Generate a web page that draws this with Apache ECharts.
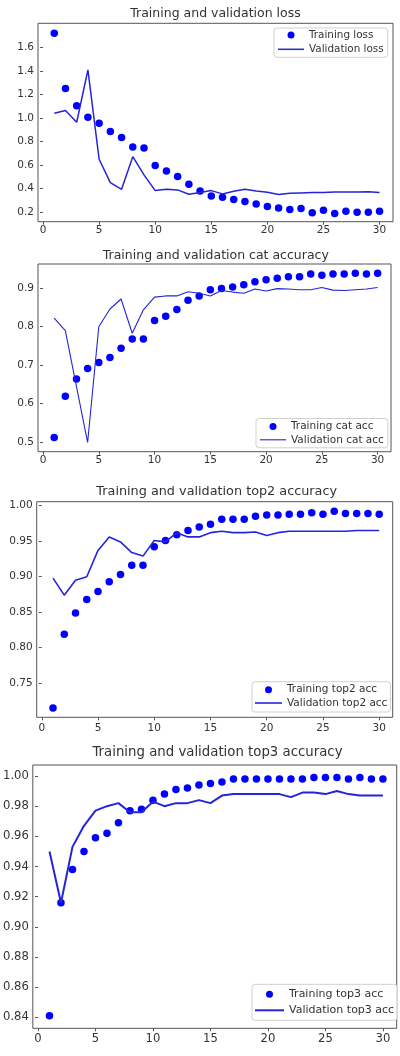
<!DOCTYPE html>
<html>
<head>
<meta charset="utf-8">
<script src="https://cdn.jsdelivr.net/npm/echarts@6/dist/echarts.min.js"></script>
<style>html,body{margin:0;padding:0;background:#fff;}#c{width:400px;height:1056px;}</style>
</head>
<body>
<div id="c"></div>
<script>
// ---- data ----
const epochs = [1,2,3,4,5,6,7,8,9,10,11,12,13,14,15,16,17,18,19,20,21,22,23,24,25,26,27,28,29,30];

const trainLoss = [1.72,1.25,1.105,1.006,0.955,0.885,0.834,0.754,0.746,0.596,0.551,0.503,0.438,0.381,0.339,0.327,0.308,0.291,0.271,0.248,0.237,0.223,0.231,0.197,0.217,0.189,0.209,0.200,0.200,0.209];
const valLoss   = [1.04,1.063,0.964,1.408,0.65,0.452,0.395,0.672,0.517,0.384,0.395,0.39,0.353,0.367,0.384,0.356,0.378,0.395,0.381,0.37,0.35,0.361,0.364,0.367,0.367,0.373,0.373,0.373,0.375,0.367];

const trainCat = [0.512,0.619,0.664,0.691,0.707,0.72,0.744,0.768,0.768,0.816,0.827,0.845,0.869,0.88,0.896,0.899,0.903,0.909,0.917,0.922,0.926,0.93,0.93,0.937,0.934,0.937,0.937,0.939,0.937,0.939];
const valCat   = [0.822,0.79,0.644,0.499,0.8,0.846,0.872,0.783,0.844,0.877,0.88,0.88,0.891,0.887,0.88,0.894,0.89,0.887,0.898,0.893,0.899,0.898,0.896,0.896,0.902,0.895,0.894,0.896,0.898,0.902];

const trainTop2 = [0.715,0.819,0.849,0.868,0.879,0.893,0.903,0.916,0.916,0.942,0.951,0.959,0.965,0.970,0.974,0.981,0.981,0.981,0.985,0.987,0.987,0.988,0.988,0.990,0.988,0.992,0.989,0.989,0.989,0.988];
const valTop2   = [0.898,0.874,0.895,0.900,0.937,0.956,0.949,0.934,0.929,0.951,0.949,0.962,0.956,0.956,0.962,0.964,0.962,0.962,0.963,0.958,0.962,0.964,0.964,0.964,0.964,0.964,0.964,0.965,0.965,0.965];

const trainTop3 = [0.841,0.916,0.938,0.950,0.959,0.962,0.969,0.977,0.978,0.984,0.988,0.991,0.992,0.994,0.995,0.996,0.998,0.998,0.998,0.998,0.998,0.998,0.998,0.999,0.999,0.999,0.998,0.999,0.998,0.998];
const valTop3   = [0.950,0.916,0.953,0.967,0.977,0.980,0.982,0.976,0.976,0.983,0.980,0.982,0.982,0.984,0.982,0.987,0.988,0.988,0.988,0.988,0.988,0.986,0.989,0.989,0.988,0.990,0.988,0.987,0.987,0.987];

const titles = ['Training and validation loss','Training and validation cat accuracy','Training and validation top2 accuracy','Training and validation top3 accuracy'];
const trainNames = ['Training loss','Training cat acc','Training top2 acc','Training top3 acc'];
const valNames = ['Validation loss','Validation cat acc','Validation top2 acc','Validation top3 acc'];

const xTicks = [0,5,10,15,20,25,30];
const yTicks1 = [0.2,0.4,0.6,0.8,1.0,1.2,1.4,1.6];
const yTicks2 = [0.5,0.6,0.7,0.8,0.9];
const yTicks3 = [0.75,0.80,0.85,0.90,0.95,1.00];
const yTicks4 = [0.84,0.86,0.88,0.90,0.92,0.94,0.96,0.98,1.00];

// ---- layout ----
const panels = [
  {grid:{left:38,top:23.3,width:355,height:198.4}, y:[0.12,1.804], yt:yTicks1, dec:1, fs:10.5, tfs:12.5, tc:[215.5,7.5], xm:3,
   lg:{left:274,top:28,padding:[1,4,2,4],itemWidth:26,lh:12,gap:2.3,fs:10.4}, lw:1.5, train:trainLoss, val:valLoss},
  {grid:{left:38,top:264,width:353,height:187.7}, y:[0.475,0.963], yt:yTicks2, dec:1, fs:10.5, tfs:12.5, tc:[215.8,249.5], xm:3,
   lg:{left:256,top:418.5,padding:[2,4,2,4],itemWidth:26,lh:12,gap:1.3,fs:10.5}, lw:1.1, train:trainCat, val:valCat},
  {grid:{left:36.7,top:501.7,width:356,height:215.6}, y:[0.702,1.0056], yt:yTicks3, dec:2, fs:10.5, tfs:12.8, tc:[216.7,484.7], xm:5,
   lg:{left:252,top:681.7,padding:[2,3,3,3],itemWidth:27,lh:12,gap:1.3,fs:10.5}, lw:1.6, train:trainTop2, val:valTop2},
  {grid:{left:31.7,top:765,width:365,height:263.3}, y:[0.8327,1.0073], yt:yTicks4, dec:2, fs:11.6, tfs:13.3, tc:[217.5,746.5], xm:5,
   lg:{left:252,top:984.3,padding:[3,3,3,3],itemWidth:29,lh:14,gap:2,fs:11},   lw:2, train:trainTop3, val:valTop3}
];

const FONT = 'DejaVu Sans';
const LINE = '#2424dc';
const DOT = '#0000ff';
const TXT = '#333';
const FRAME = '#555';

const option = {
  animation:false,
  backgroundColor:'#fff',
  title:[], grid:[], xAxis:[], yAxis:[], legend:[], series:[]
};

panels.forEach((p,i)=>{
  option.title.push({
    text:titles[i], left:p.tc[0], top:p.tc[1], textAlign:'center', padding:0,
    textStyle:{fontFamily:FONT,fontSize:p.tfs,fontWeight:'normal',color:TXT}
  });
  option.grid.push(Object.assign({show:true,borderColor:FRAME,borderWidth:1,backgroundColor:'transparent',containLabel:false},p.grid));
  option.xAxis.push({
    type:'value', gridIndex:i, min:-0.45, max:31.2,
    axisLine:{show:false}, splitLine:{show:false},
    axisTick:{show:true,inside:false,length:3,lineStyle:{color:FRAME},customValues:xTicks},
    axisLabel:{show:true,margin:p.xm,fontFamily:FONT,fontSize:p.fs,color:TXT,customValues:xTicks,formatter:v=>String(v)}
  });
  option.yAxis.push({
    type:'value', gridIndex:i, min:p.y[0], max:p.y[1],
    axisLine:{show:false}, splitLine:{show:false},
    axisTick:{show:true,inside:false,length:3,lineStyle:{color:FRAME},customValues:p.yt},
    axisLabel:{show:true,margin:4,fontFamily:FONT,fontSize:p.fs,color:TXT,customValues:p.yt,formatter:v=>v.toFixed(p.dec)}
  });
  const lineIconH = Math.max(1, p.lw);
  option.legend.push({
    orient:'vertical', left:p.lg.left, top:p.lg.top, padding:p.lg.padding,
    itemWidth:p.lg.itemWidth, itemHeight:7, itemGap:p.lg.gap,
    borderColor:'#d0d0d0', borderWidth:1, borderRadius:3, backgroundColor:'rgba(255,255,255,0.85)',
    textStyle:{fontFamily:FONT,fontSize:p.lg.fs,color:TXT,lineHeight:p.lg.lh},
    data:[
      {name:trainNames[i], icon:'circle', itemStyle:{opacity:1}},
      {name:valNames[i], icon:'path://M0,0H' + p.lg.itemWidth + 'V' + lineIconH + 'H0Z'}
    ],
    selectedMode:false
  });
  option.series.push({
    type:'scatter', name:trainNames[i], xAxisIndex:i, yAxisIndex:i,
    symbol:'circle', symbolSize:7.5, itemStyle:{color:DOT,opacity:1},
    data:epochs.map((e,k)=>[e,p.train[k]])
  });
  option.series.push({
    type:'line', name:valNames[i], xAxisIndex:i, yAxisIndex:i,
    symbol:'none', showSymbol:false, lineStyle:{color:LINE,width:p.lw}, itemStyle:{color:LINE},
    data:epochs.map((e,k)=>[e,p.val[k]])
  });
});

const chart = echarts.init(document.getElementById('c'),null,{renderer:'canvas'});
chart.setOption(option);
</script>
</body>
</html>
